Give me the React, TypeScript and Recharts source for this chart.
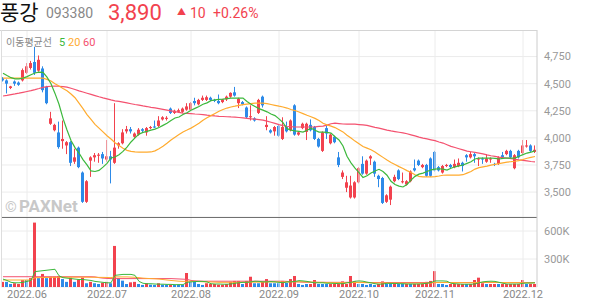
import React from 'react';
import { ComposedChart, Bar, Line, XAxis, YAxis, CartesianGrid, ReferenceLine } from 'recharts';

// ---------- categories (trading days) ----------
const monthDays: [string, number[]][] = [
  ['2022-05', [24, 25, 26, 27, 30, 31]],
  ['2022-06', [2, 3, 7, 8, 9, 10, 13, 14, 15, 16, 17, 20, 21, 22, 23, 24, 27, 28, 29, 30]],
  ['2022-07', [1, 4, 5, 6, 7, 8, 11, 12, 13, 14, 15, 18, 19, 20, 21, 22, 25, 26, 27, 28, 29]],
  ['2022-08', [1, 2, 3, 4, 5, 8, 9, 10, 11, 12, 16, 17, 18, 19, 22, 23, 24, 25, 26, 29, 30, 31]],
  ['2022-09', [1, 2, 5, 6, 7, 8, 13, 14, 15, 16, 19, 20, 21, 22, 23, 26, 27, 28, 29, 30]],
  ['2022-10', [4, 5, 6, 7, 11, 12, 13, 14, 17, 18, 19, 20, 21, 24, 25, 26, 27, 28, 31]],
  ['2022-11', [1, 2, 3, 4, 7, 8, 9, 10, 11, 14, 15, 16, 17, 18, 21, 22, 23, 24, 25, 28, 29, 30]],
  ['2022-12', [1, 2, 5, 6]],
];
const dates: string[] = monthDays.flatMap(([m, ds]) => ds.map((d) => `${m}-${String(d).padStart(2, '0')}`));
const monthTicks = ['2022-06-02', '2022-07-01', '2022-08-01', '2022-09-01', '2022-10-04', '2022-11-01', '2022-12-01'];
const priceTicks = [3500, 3750, 4000, 4250, 4500, 4750];
const volumeTicks = [300, 600];

// ---------- OHLC ----------
const opens = [
  4550, 4530, 4460, 4520, 4510, 4530, 4600, 4645, 4700, 4620,
  4640, 4470, 4130, 4070, 4050, 3970, 3930, 3960, 3780, 3910,
  3680, 3410, 3790, 3820, 3835, 3850, 3800, 3830, 3770, 3930,
  3950, 4060, 4080, 4010, 4030, 4080, 4050, 4090, 4105, 4110,
  4170, 4175, 4270, 4230, 4240, 4240, 4260, 4260, 4340, 4310,
  4350, 4350, 4370, 4350, 4340, 4330, 4355, 4380, 4420, 4320,
  4330, 4280, 4190, 4180, 4230, 4380, 4100, 4070, 4060, 4110,
  3990, 4100, 4070, 4300, 4030, 4090, 4055, 4120, 4100, 3990,
  3880, 4090, 3950, 4010, 3820, 3640, 3540, 3450, 3450, 3590,
  3760, 3670, 3810, 3780, 3650, 3630, 3410, 3430, 3600, 3700,
  3590, 3570, 3600, 3720, 3790, 3730, 3750, 3810, 3870, 3730,
  3680, 3740, 3750, 3730, 3740, 3770, 3840, 3820, 3850, 3800,
  3810, 3780, 3800, 3760, 3760, 3840, 3850, 3880, 3720, 3880,
  3860, 3920, 3930, 3870,
];
const highs = [
  4560, 4540, 4480, 4530, 4520, 4640, 4690, 4710, 4840, 4760,
  4660, 4480, 4240, 4130, 4150, 4160, 3970, 3970, 3900, 3920,
  3690, 3610, 3830, 3860, 3860, 3870, 3980, 3880, 4320, 3960,
  4080, 4110, 4100, 4050, 4090, 4090, 4100, 4110, 4160, 4200,
  4200, 4200, 4280, 4260, 4270, 4280, 4320, 4330, 4370, 4360,
  4390, 4390, 4380, 4360, 4400, 4360, 4390, 4420, 4470, 4370,
  4340, 4290, 4300, 4190, 4360, 4390, 4200, 4080, 4110, 4120,
  4190, 4150, 4170, 4310, 4060, 4140, 4140, 4170, 4110, 4000,
  4060, 4110, 4040, 4020, 3870, 3700, 3650, 3650, 3600, 3730,
  3830, 3800, 3840, 3790, 3660, 3640, 3480, 3560, 3660, 3710,
  3680, 3610, 3700, 3800, 3800, 3760, 3760, 3820, 3880, 3740,
  3750, 3760, 3760, 3800, 3810, 3780, 3850, 3870, 3860, 3820,
  3820, 3850, 3820, 3770, 3830, 3870, 3890, 3890, 3850, 3890,
  3980, 3980, 3940, 3930,
];
const lows = [
  4520, 4410, 4450, 4480, 4480, 4520, 4590, 4630, 4580, 4610,
  4420, 4310, 4120, 4060, 3900, 3900, 3850, 3740, 3760, 3720,
  3400, 3400, 3640, 3780, 3770, 3760, 3780, 3580, 3760, 3900,
  3940, 4040, 4040, 4000, 4020, 4050, 4020, 4080, 4090, 4100,
  4160, 4160, 4220, 4220, 4230, 4230, 4250, 4250, 4300, 4300,
  4340, 4340, 4340, 4330, 4310, 4320, 4340, 4370, 4380, 4275,
  4300, 4180, 4160, 4150, 4220, 4280, 4070, 4040, 4020, 4010,
  3980, 4050, 4060, 4020, 4020, 4080, 3980, 4060, 3980, 3910,
  3870, 3990, 3940, 3950, 3730, 3620, 3500, 3440, 3440, 3580,
  3660, 3660, 3750, 3640, 3545, 3390, 3400, 3380, 3590, 3610,
  3580, 3560, 3590, 3690, 3740, 3720, 3640, 3640, 3690, 3690,
  3670, 3730, 3720, 3720, 3730, 3690, 3780, 3810, 3770, 3740,
  3760, 3770, 3770, 3740, 3750, 3810, 3840, 3810, 3710, 3810,
  3850, 3910, 3870, 3860,
];
const closes = [
  4530, 4500, 4475, 4500, 4490, 4625, 4660, 4690, 4600, 4720,
  4440, 4320, 4180, 4120, 3915, 3990, 3960, 3770, 3820, 3730,
  3410, 3600, 3820, 3840, 3845, 3810, 3830, 3800, 3910, 3950,
  4050, 4080, 4060, 4040, 4075, 4065, 4090, 4100, 4095, 4160,
  4190, 4185, 4230, 4250, 4255, 4270, 4290, 4320, 4320, 4350,
  4370, 4375, 4350, 4340, 4320, 4355, 4380, 4415, 4390, 4360,
  4310, 4190, 4200, 4160, 4350, 4300, 4120, 4050, 4100, 4020,
  4100, 4060, 4160, 4030, 4050, 4130, 4130, 4070, 3990, 3920,
  4050, 4040, 4030, 3960, 3750, 3680, 3590, 3560, 3590, 3720,
  3670, 3790, 3830, 3670, 3620, 3400, 3470, 3550, 3640, 3620,
  3600, 3600, 3690, 3700, 3750, 3750, 3650, 3650, 3700, 3700,
  3740, 3750, 3730, 3760, 3770, 3740, 3820, 3850, 3830, 3810,
  3800, 3810, 3810, 3750, 3820, 3820, 3880, 3820, 3840, 3820,
  3930, 3930, 3880, 3890,
];

// ---------- moving averages ----------
const ma5 = [
  4597, 4575, 4555, 4545, 4545, 4551, 4565, 4582, 4598, 4607,
  4605, 4560, 4500, 4410, 4310, 4180, 4072, 3975, 3910, 3860,
  3800, 3750, 3695, 3690, 3700, 3730, 3765, 3815, 3823, 3845,
  3875, 3915, 3962, 4000, 4035, 4050, 4060, 4072, 4081, 4095,
  4115, 4135, 4160, 4183, 4192, 4215, 4232, 4255, 4272, 4290,
  4310, 4323, 4343, 4350, 4355, 4358, 4362, 4366, 4367, 4367,
  4367, 4335, 4310, 4290, 4270, 4256, 4240, 4220, 4205, 4175,
  4140, 4085, 4072, 4065, 4060, 4053, 4070, 4090, 4070, 4053,
  4053, 4050, 4044, 4010, 3980, 3925, 3830, 3770, 3720, 3680,
  3635, 3650, 3675, 3695, 3710, 3690, 3655, 3600, 3570, 3555,
  3547, 3570, 3610, 3645, 3665, 3675, 3690, 3705, 3712, 3715,
  3712, 3703, 3720, 3733, 3742, 3750, 3765, 3780, 3805, 3814,
  3814, 3814, 3814, 3810, 3805, 3810, 3814, 3814, 3814, 3830,
  3845, 3860, 3868, 3880,
];
const ma20 = [
  4551, 4551, 4551, 4551, 4551, 4551, 4551, 4551, 4551, 4551,
  4551, 4540, 4525, 4500, 4478, 4455, 4435, 4405, 4370, 4320,
  4270, 4215, 4170, 4125, 4090, 4055, 4020, 3990, 3955, 3930,
  3905, 3885, 3875, 3870, 3868, 3868, 3868, 3870, 3880, 3900,
  3922, 3950, 3980, 4005, 4030, 4055, 4072, 4090, 4112, 4135,
  4162, 4185, 4205, 4225, 4245, 4262, 4275, 4285, 4292, 4300,
  4307, 4312, 4316, 4320, 4321, 4321, 4316, 4308, 4300, 4292,
  4285, 4275, 4262, 4252, 4238, 4224, 4208, 4195, 4180, 4160,
  4135, 4120, 4108, 4095, 4075, 4055, 4025, 3998, 3970, 3945,
  3920, 3905, 3890, 3870, 3845, 3820, 3795, 3772, 3755, 3735,
  3718, 3698, 3680, 3660, 3645, 3640, 3640, 3640, 3642, 3648,
  3655, 3657, 3657, 3657, 3657, 3660, 3675, 3690, 3712, 3725,
  3733, 3740, 3748, 3755, 3762, 3770, 3777, 3780, 3784, 3790,
  3800, 3812, 3820, 3828,
];
const ma60 = [
  4386, 4392, 4399, 4405, 4412, 4420, 4428, 4436, 4445, 4455,
  4466, 4472, 4476, 4478, 4476, 4472, 4468, 4458, 4446, 4434,
  4423, 4412, 4401, 4390, 4379, 4369, 4360, 4350, 4342, 4336,
  4329, 4322, 4315, 4308, 4302, 4295, 4289, 4282, 4276, 4270,
  4263, 4256, 4249, 4242, 4235, 4229, 4226, 4223, 4220, 4218,
  4215, 4210, 4206, 4202, 4199, 4197, 4195, 4193, 4192, 4188,
  4184, 4180, 4176, 4172, 4168, 4164, 4155, 4144, 4133, 4122,
  4113, 4107, 4103, 4100, 4100, 4100, 4100, 4100, 4102, 4106,
  4109, 4118, 4130, 4136, 4132, 4128, 4127, 4127, 4126, 4123,
  4119, 4115, 4106, 4097, 4090, 4081, 4072, 4064, 4058, 4052,
  4046, 4038, 4028, 4018, 4007, 3998, 3990, 3982, 3974, 3962,
  3952, 3937, 3922, 3911, 3900, 3889, 3878, 3872, 3866, 3860,
  3852, 3843, 3835, 3829, 3823, 3818, 3814, 3809, 3803, 3797,
  3792, 3787, 3782, 3778,
];

// ---------- volume (thousands of shares) ----------
const volumes = [
  55, 55, 32, 40, 32, 75, 75, 95, 690, 95,
  140, 95, 110, 110, 118, 85, 55, 100, 55, 80,
  100, 40, 55, 40, 32, 45, 55, 40, 440, 95,
  68, 32, 50, 55, 32, 22, 40, 25, 22, 40,
  25, 25, 25, 22, 25, 22, 150, 55, 55, 32,
  22, 40, 32, 32, 25, 25, 32, 55, 65, 65,
  32, 65, 110, 40, 40, 55, 85, 40, 40, 40,
  65, 45, 85, 118, 32, 22, 32, 32, 75, 32,
  32, 32, 32, 32, 32, 60, 32, 118, 60, 32,
  32, 22, 32, 22, 32, 60, 32, 32, 32, 32,
  32, 32, 32, 32, 32, 32, 55, 65, 170, 32,
  32, 22, 32, 32, 32, 32, 32, 32, 75, 100,
  40, 32, 32, 32, 32, 32, 32, 32, 32, 32,
  75, 32, 32, 32,
];
const volumeUp = [
  1, 0, 0, 1, 1, 1, 0, 1, 1, 0,
  1, 0, 1, 1, 1, 0, 0, 1, 0, 1,
  1, 0, 1, 0, 0, 1, 1, 0, 1, 0,
  0, 0, 1, 1, 0, 0, 1, 0, 0, 1,
  0, 0, 1, 0, 0, 0, 1, 0, 0, 0,
  0, 1, 1, 1, 1, 1, 1, 1, 1, 1,
  0, 1, 1, 0, 0, 1, 1, 0, 0, 0,
  1, 0, 1, 1, 0, 0, 0, 1, 1, 0,
  0, 0, 1, 1, 1, 1, 1, 1, 1, 0,
  0, 0, 0, 0, 1, 1, 0, 0, 1, 0,
  0, 1, 0, 1, 1, 1, 1, 1, 1, 0,
  0, 0, 1, 1, 1, 1, 0, 1, 1, 1,
  1, 0, 1, 1, 0, 1, 1, 1, 1, 1,
  1, 0, 1, 1,
];
const volMa5 = [
  85, 70, 50, 45, 45, 50, 60, 70, 165, 170,
  175, 180, 185, 190, 120, 100, 95, 90, 85, 80,
  80, 75, 70, 60, 55, 50, 45, 45, 125, 130,
  135, 135, 135, 125, 60, 40, 35, 35, 32, 30,
  30, 28, 28, 25, 25, 25, 50, 55, 58, 60,
  60, 55, 35, 32, 32, 30, 30, 32, 40, 45,
  50, 50, 55, 62, 60, 55, 55, 58, 55, 50,
  45, 55, 55, 60, 68, 65, 60, 52, 45, 45,
  45, 40, 40, 38, 36, 35, 45, 50, 62, 65,
  62, 52, 45, 35, 30, 32, 40, 38, 38, 35,
  35, 32, 32, 32, 32, 35, 40, 48, 65, 65,
  65, 62, 40, 35, 32, 30, 30, 30, 32, 45,
  55, 60, 62, 60, 50, 40, 32, 32, 32, 32,
  40, 42, 42, 45,
];
const volMa20 = [
  75, 75, 75, 75, 75, 75, 75, 75, 100, 100,
  102, 102, 104, 104, 105, 105, 105, 105, 105, 105,
  105, 105, 104, 104, 103, 103, 102, 100, 108, 108,
  108, 108, 106, 104, 100, 95, 92, 90, 88, 85,
  80, 75, 70, 66, 62, 60, 62, 62, 60, 58,
  56, 55, 54, 52, 50, 50, 50, 50, 50, 50,
  50, 50, 52, 52, 52, 52, 54, 54, 54, 54,
  54, 54, 55, 56, 56, 55, 54, 52, 52, 50,
  50, 48, 48, 46, 46, 46, 46, 48, 48, 48,
  47, 46, 45, 44, 44, 44, 44, 43, 43, 42,
  42, 42, 42, 42, 42, 42, 42, 43, 48, 48,
  48, 48, 48, 47, 47, 47, 46, 46, 48, 50,
  50, 50, 50, 50, 49, 48, 48, 47, 47, 46,
  46, 46, 45, 45,
];
const volMa60 = [
  110, 110, 110, 110, 110, 110, 110, 110, 110, 110,
  110, 110, 110, 110, 110, 110, 110, 110, 110, 110,
  110, 110, 110, 108, 100, 95, 92, 90, 90, 90,
  90, 90, 90, 90, 90, 90, 90, 90, 90, 90,
  90, 90, 90, 88, 86, 84, 82, 70, 66, 64,
  62, 62, 62, 62, 62, 62, 62, 62, 62, 62,
  62, 62, 62, 62, 62, 62, 62, 62, 62, 62,
  62, 60, 58, 56, 54, 52, 50, 50, 50, 50,
  50, 50, 50, 50, 50, 50, 50, 50, 50, 50,
  49, 49, 48, 48, 48, 48, 48, 48, 48, 48,
  48, 48, 48, 48, 48, 48, 48, 48, 48, 48,
  48, 48, 48, 48, 48, 48, 48, 48, 48, 48,
  48, 48, 48, 48, 48, 48, 48, 48, 48, 48,
  48, 48, 48, 48,
];

// ---------- styles ----------
const RED = '#f2424e';
const BLUE = '#2d8ae8';
const GREEN = '#3cb83c';
const ORANGE = '#ffab2e';
const PINK = '#f4516f';
const FONT = "Roboto, 'Noto Sans CJK KR', sans-serif";

const data = dates.map((date, i) => ({
  date,
  open: opens[i],
  high: highs[i],
  low: lows[i],
  close: closes[i],
  range: [lows[i], highs[i]],
  ma5: ma5[i],
  ma20: ma20[i],
  ma60: ma60[i],
  volume: volumes[i],
  volUp: volumeUp[i] === 1,
  vma5: volMa5[i],
  vma20: volMa20[i],
  vma60: volMa60[i],
}));

const fmtComma = (v: number) => String(v).replace(/\B(?=(\d{3})+(?!\d))/g, ',');

const Candle = (props: any) => {
  const { x, y, width, height, payload } = props;
  if (!payload || x == null) return null;
  const { open, close, high, low } = payload;
  const up = close >= open;
  const color = up ? RED : BLUE;
  const range = high - low;
  const ratio = range > 0 ? height / range : 0;
  const cx = Math.floor(x + width / 2);
  const bodyTop = y + (high - Math.max(open, close)) * ratio;
  const bodyH = Math.max(1, Math.abs(open - close) * ratio);
  return (
    <g>
      <line x1={cx + 0.5} x2={cx + 0.5} y1={y} y2={y + Math.max(height, 1)} stroke={color} strokeWidth={1} />
      <rect x={cx - 1} y={bodyTop} width={3} height={bodyH} fill={color} />
    </g>
  );
};

const VolBar = (props: any) => {
  const { x, y, width, height, payload } = props;
  if (!payload || x == null) return null;
  const cx = Math.floor(x + width / 2);
  return <rect x={cx - 1} y={y} width={3} height={Math.max(height, 0)} fill={payload.volUp ? RED : BLUE} />;
};

const monthLabel = (d: string) => d.slice(0, 7).replace('-', '.');

export default function App() {
  return (
    <div style={{ position: 'absolute', left: 0, top: 0, width: 594, height: 304, background: '#fff', fontFamily: FONT, overflow: 'hidden' }}>
      {/* header */}
      <svg width={594} height={30} style={{ position: 'absolute', left: 0, top: 0 }}>
        <text x={0} y={20} fontSize={21} fill="#111" fontFamily={FONT}>풍강</text>
        <text x={46} y={18} fontSize={14} fill="#888" fontFamily={FONT}>093380</text>
        <text x={108} y={20} fontSize={22} fill={RED} fontFamily={FONT}>3,890</text>
        <text x={177} y={15} fontSize={9} fill={RED} fontFamily={FONT}>▲</text>
        <text x={190} y={18} fontSize={14} fill={RED} fontFamily={FONT}>10</text>
        <text x={213} y={18} fontSize={14} fill={RED} fontFamily={FONT}>+0.26%</text>
      </svg>

      {/* price panel */}
      <div style={{ position: 'absolute', left: 0, top: 30 }}>
        <ComposedChart width={594} height={187} data={data} margin={{ top: 0, right: 0, bottom: 0, left: 1 }}>
          <CartesianGrid vertical={false} stroke="#ececec" />
          <XAxis dataKey="date" type="category" hide />
          <YAxis
            orientation="right"
            width={57}
            domain={[3270, 4995]}
            ticks={priceTicks}
            tickFormatter={fmtComma}
            tickLine={false}
            tickSize={0}
            tickMargin={7}
            axisLine={{ stroke: '#cccccc' }}
            tick={{ fill: '#999', fontSize: 11, fontFamily: FONT }}
            allowDataOverflow
          />
          {monthTicks.map((d) => (
            <ReferenceLine key={d} x={d} stroke="#ececec" />
          ))}
          <Bar dataKey="range" shape={<Candle />} isAnimationActive={false} />
          <Line type="linear" dataKey="ma60" stroke={PINK} strokeWidth={1.2} dot={false} isAnimationActive={false} />
          <Line type="linear" dataKey="ma20" stroke={ORANGE} strokeWidth={1.2} dot={false} isAnimationActive={false} />
          <Line type="linear" dataKey="ma5" stroke={GREEN} strokeWidth={1.2} dot={false} isAnimationActive={false} />
        </ComposedChart>
      </div>

      {/* volume panel */}
      <div style={{ position: 'absolute', left: 0, top: 217 }}>
        <ComposedChart width={594} height={87} data={data} margin={{ top: 0, right: 0, bottom: 0, left: 1 }}>
          <CartesianGrid vertical={false} stroke="#ececec" />
          <XAxis
            dataKey="date"
            type="category"
            ticks={monthTicks}
            interval={0}
            tickFormatter={monthLabel}
            height={17}
            tickLine={false}
            tickSize={0}
            tickMargin={3}
            axisLine={false}
            tick={{ fill: '#888', fontSize: 11, fontFamily: FONT }}
          />
          <YAxis
            orientation="right"
            width={57}
            domain={[0, 750]}
            ticks={volumeTicks}
            tickFormatter={(v: number) => `${v}K`}
            tickLine={false}
            tickSize={0}
            tickMargin={7}
            axisLine={{ stroke: '#cccccc' }}
            tick={{ fill: '#999', fontSize: 11, fontFamily: FONT }}
            allowDataOverflow
          />
          {monthTicks.map((d) => (
            <ReferenceLine key={d} x={d} stroke="#ececec" />
          ))}
          <Bar dataKey="volume" shape={<VolBar />} isAnimationActive={false} />
          <Line type="linear" dataKey="vma60" stroke={PINK} strokeWidth={1} dot={false} isAnimationActive={false} />
          <Line type="linear" dataKey="vma20" stroke={ORANGE} strokeWidth={1} dot={false} isAnimationActive={false} />
          <Line type="linear" dataKey="vma5" stroke={GREEN} strokeWidth={1} dot={false} isAnimationActive={false} />
          <ReferenceLine y={750} stroke="#444" strokeWidth={1.5} />
        </ComposedChart>
      </div>

      {/* borders, legend and watermark */}
      <div style={{ position: 'absolute', left: 0, top: 30, width: 537, height: 1, background: '#d4d4d4' }} />
      <div style={{ position: 'absolute', left: 1, top: 30, width: 1, height: 257, background: '#dddddd' }} />
      <svg width={594} height={304} style={{ position: 'absolute', left: 0, top: 0, pointerEvents: 'none' }}>
        <text x={6} y={46} fontSize={10} fill="#888" fontFamily={FONT}>이동평균선</text>
        <text x={59} y={46} fontSize={11} fill={GREEN} fontFamily={FONT}>5</text>
        <text x={68} y={46} fontSize={11} fill={ORANGE} fontFamily={FONT}>20</text>
        <text x={83} y={46} fontSize={11} fill={PINK} fontFamily={FONT}>60</text>
        <text x={5} y={212} fontSize={15} fill="#c8c8c8" fontFamily={FONT}>©</text>
        <text x={19} y={212} fontSize={17} fontWeight={700} fill="#c8c8c8" fontFamily={FONT}>PAXNet</text>
      </svg>
    </div>
  );
}
